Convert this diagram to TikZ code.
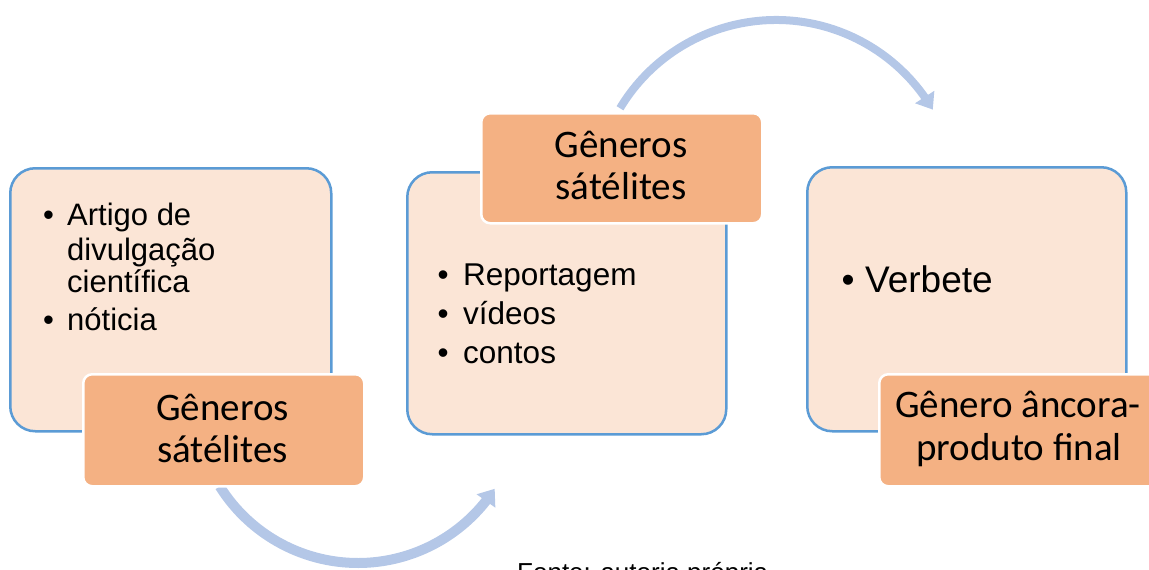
\documentclass[tikz,border=0pt]{standalone}
\usepackage{fontspec}
\setmainfont{Liberation Sans}
\newfontfamily\calfont{Carlito}
\usetikzlibrary{arrows.meta,bending}
\definecolor{peach}{HTML}{FBE5D6}
\definecolor{labor}{HTML}{F4B183}
\definecolor{boxblue}{HTML}{5B9BD5}
\definecolor{arcblue}{HTML}{B4C7E7}
\begin{document}
\begin{tikzpicture}[x=1pt,y=-1pt,
  bigbox/.style={draw=boxblue, line width=2.5pt, fill=peach, rounded corners=25pt, inner sep=0pt, anchor=north west},
  labbox/.style={draw=white, line width=2.5pt, fill=labor, rounded corners=9pt, inner sep=0pt, anchor=north west, minimum width=281pt, minimum height=112pt},
  arcarrow/.style={draw=arcblue, -{Triangle[width=22pt,length=15pt,flex]}},
  labtxt/.style={font=\calfont\fontsize{39}{42}\selectfont, inner sep=0pt, anchor=base},
  smalltxt/.style={font=\fontsize{31}{33}\selectfont, inner sep=0pt, anchor=base west},
  midtxt/.style={font=\fontsize{31.5}{33}\selectfont, inner sep=0pt, anchor=base west},
  bigtxt/.style={font=\fontsize{37}{45}\selectfont, inner sep=0pt, anchor=base west}
]
\useasboundingbox (0,0) rectangle (1149,570);
\clip (0,0) rectangle (1149,570);

% main boxes
\node[bigbox, minimum width=321pt, minimum height=263pt] (box1) at (9,167) {};
\node[bigbox, minimum width=319pt, minimum height=262pt] (box2) at (406,171) {};
\node[bigbox, minimum width=319pt, minimum height=264pt] (box3) at (806,166) {};

% arcs
\coordinate (c1) at (358,400);
\coordinate (c2) at (776,202);
\draw[arcarrow, line width=10pt] ([shift={(212:163pt)}]c1) arc[start angle=212, end angle=327, radius=163pt];
\draw[arcarrow, line width=8pt] ([shift={(149:182pt)}]c2) arc[start angle=149, end angle=30.5, radius=182pt];

% label boxes
\node[labbox] (lab1) at (82,373) {};
\node[labbox, minimum height=110pt] (lab2) at (480,112) {};
\node[labbox] (lab3) at (878,373) {};

\node[labtxt] (l1a) at (222.5,420) {Gêneros};
\node[labtxt] (l1b) at (222.5,462) {sátélites};
\node[labtxt] (l2a) at (621,157) {Gêneros};
\node[labtxt] (l2b) at (621,199) {sátélites};
\node[labtxt] (l3a) at (1018,417) {Gênero âncora-};
\node[labtxt] (l3b) at (1019,460) {produto final};

% box 1 text
\node[smalltxt] (b1i1) at (43,225) {\textbullet};
\node[smalltxt] (t1a) at (67,225) {Artigo de};
\node[smalltxt] (t1b) at (67,260) {divulgação};
\node[smalltxt] (t1c) at (67,292) {científica};
\node[smalltxt] (b1i2) at (43,330) {\textbullet};
\node[smalltxt] (t1d) at (67,330) {nóticia};

% box 2 text
\node[midtxt] (b2i1) at (437.5,285) {\textbullet};
\node[midtxt] (t2a) at (463,285) {Reportagem};
\node[midtxt] (b2i2) at (437.5,324) {\textbullet};
\node[midtxt] (t2b) at (463,324) {vídeos};
\node[midtxt] (b2i3) at (437.5,363) {\textbullet};
\node[midtxt] (t2c) at (463,363) {contos};

% box 3 text
\node[bigtxt] (b3i1) at (841.5,292) {\textbullet};
\node[bigtxt] (t3a) at (865,292) {Verbete};

% source
\node[font=\fontsize{26}{30}\selectfont, inner sep=0pt, anchor=base west] (src) at (517,581) {Fonte: autoria própria};
\end{tikzpicture}
\end{document}
